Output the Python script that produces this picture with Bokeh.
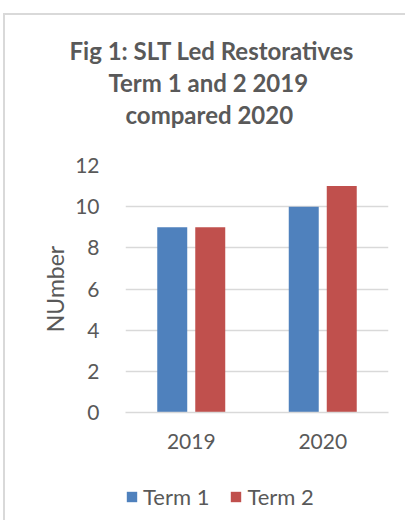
from bokeh.plotting import figure
from bokeh.layouts import column
from bokeh.models import FactorRange, Range1d, ColumnDataSource, Title, Legend, LegendItem, FixedTicker
from bokeh.transform import dodge
from bokeh.embed import file_html
from bokeh.resources import INLINE

years = ["2019", "2020"]
term1 = [9, 10]
term2 = [9, 11]
series = ["Term 1", "Term 2"]
title_lines = ["Fig 1: SLT Led Restoratives", "Term 1 and 2 2019", "compared 2020"]
y_ticks = [0, 2, 4, 6, 8, 10, 12]
y_label = "NUmber"

FONT = "Lato"
TXT = "#595959"
GRID = "#D9D9D9"
BLUE = "#4F81BD"
RED = "#C0504D"
colors = [BLUE, RED]

src = ColumnDataSource(dict(year=years, t1=term1, t2=term2))

p = figure(x_range=FactorRange(*years), y_range=Range1d(0, 12),
           width=400, height=440, title=None,
           output_backend="svg", toolbar_location=None,
           min_border_left=120, min_border_right=17,
           min_border_top=150, min_border_bottom=43)

r1 = p.vbar(x=dodge("year", -0.1445, range=p.x_range), top="t1", width=0.228,
            source=src, fill_color=BLUE, line_color=None)
r2 = p.vbar(x=dodge("year", 0.1445, range=p.x_range), top="t2", width=0.228,
            source=src, fill_color=RED, line_color=None)

# spacer between the title block and the plot area
p.add_layout(Title(text=" ", text_font=FONT, text_font_size="24px", standoff=5), "above")
offsets = [-56, -17, 0]
for line, off in zip(reversed(title_lines), reversed(offsets)):
    p.add_layout(Title(text=line, align="left", text_font=FONT, text_font_size="24px",
                       text_font_style="bold", text_color=TXT, standoff=1, offset=off), "above")

p.outline_line_color = None
p.xgrid.grid_line_color = None
p.ygrid.grid_line_color = GRID
p.ygrid.grid_line_width = 1.5

p.xaxis.axis_line_color = GRID
p.xaxis.axis_line_width = 1.5
p.xaxis.major_tick_line_color = None
p.xaxis.minor_tick_line_color = None
p.xaxis.major_label_text_font = FONT
p.xaxis.major_label_text_font_size = "21px"
p.xaxis.major_label_text_color = TXT
p.xaxis.major_label_standoff = 15

p.yaxis.ticker = FixedTicker(ticks=y_ticks)
p.yaxis.axis_line_color = None
p.yaxis.major_tick_line_color = None
p.yaxis.minor_tick_line_color = None
p.yaxis.major_label_text_font = FONT
p.yaxis.major_label_text_font_size = "21px"
p.yaxis.major_label_text_color = TXT
p.yaxis.major_label_standoff = 20
p.yaxis.axis_label = y_label
p.yaxis.axis_label_text_font = FONT
p.yaxis.axis_label_text_font_size = "23px"
p.yaxis.axis_label_text_font_style = "normal"
p.yaxis.axis_label_text_color = TXT
p.yaxis.axis_label_standoff = 3

# legend strip below the chart (zero-height proxy bars carry the legend swatches)
q = figure(width=400, height=65, x_range=Range1d(0, 1), y_range=Range1d(0, 1),
           title=None, output_backend="svg", toolbar_location=None,
           min_border=0)
q.axis.visible = False
q.grid.visible = False
q.outline_line_color = None
lr = [q.vbar(x=[0.5], top=[0], width=0.1, fill_color=c, line_color=None) for c in colors]

legend = Legend(items=[LegendItem(label=s, renderers=[r]) for s, r in zip(series, lr)],
                orientation="horizontal", location=(0, 10), padding=0, margin=0,
                border_line_color=None, background_fill_alpha=0,
                glyph_width=13, glyph_height=13, label_standoff=5, spacing=20,
                label_text_font=FONT, label_text_font_size="22px", label_text_color=TXT,
                label_height=13)
q.add_layout(legend, "center")

layout = column(p, q, spacing=0)
layout.styles = {"border-top": "2px solid #D9D9D9", "border-left": "2px solid #D9D9D9",
                 "margin-top": "13px", "margin-left": "3px"}

open("out.html", "w").write(file_html(layout, INLINE))
